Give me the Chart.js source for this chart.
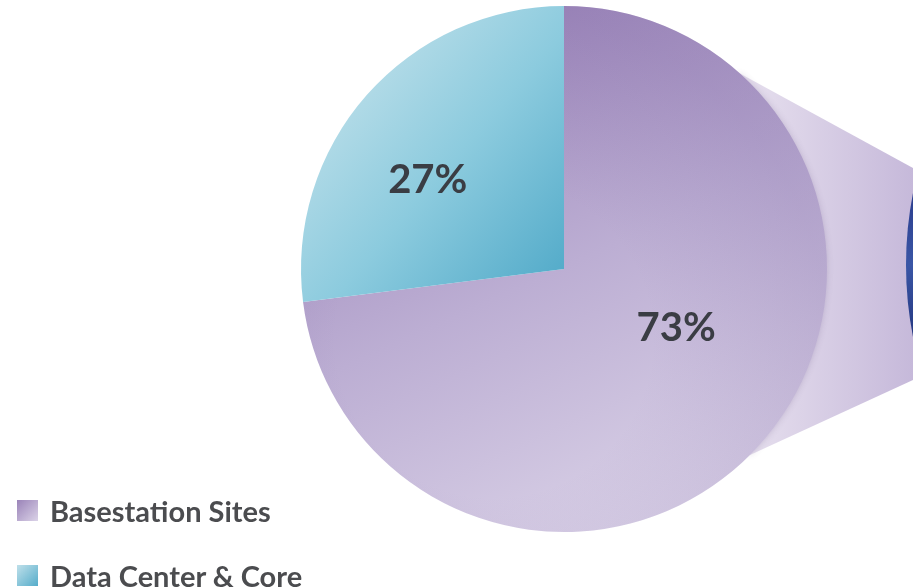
<!DOCTYPE html>
<html lang="en">
<head>
  <meta charset="UTF-8">
  <title>Energy Share</title>
  <script src="https://cdn.jsdelivr.net/npm/chart.js@4.4.1/dist/chart.umd.min.js"></script>
  <style>
    html, body { margin: 0; padding: 0; background: #fff; }
    #wrap { position: relative; width: 913px; height: 588px; }
    #legend { position: absolute; left: 17px; top: 478px; font-family: Lato, sans-serif; font-weight: 700; color: #4b4c4f; }
    .item { display: flex; align-items: center; height: 65px; font-size: 29px; }
    .box { width: 21px; height: 21px; margin-right: 12px; }
  </style>
</head>
<body>
<div id="wrap">
  <canvas id="chart" width="913" height="588"></canvas>
  <div id="legend"></div>
</div>
<script>
var labels = ['Basestation Sites', 'Data Center & Core'];
var shares = [73, 27];
// gradient stops for each slice
var sliceColors = [['#9a83b8', '#bcaed3', '#dbd3e8'], ['#bfe0ea', '#8ccbde', '#55acca']];

function sliceFill(context) {
  var chart = context.chart;
  var area = chart.chartArea;
  var c = sliceColors[context.dataIndex];
  if (!area) return c[0];
  var g;
  if (context.dataIndex === 0) {
    g = chart.ctx.createLinearGradient(area.left + 140, area.top, area.left + 380, area.bottom);
  } else {
    var cx = (area.left + area.right) / 2, cy = (area.top + area.bottom) / 2;
    g = chart.ctx.createLinearGradient(area.left + 30, area.top + 60, cx, cy);
  }
  g.addColorStop(0, c[0]);
  g.addColorStop(0.5, c[1]);
  g.addColorStop(1, c[2]);
  return g;
}

// funnel leading off to the right and the second (clipped) circle
var funnel = {
  id: 'funnel',
  beforeDatasetsDraw: function(chart) {
    var meta = chart.getDatasetMeta(0).data[0];
    if (!meta) return;
    var ctx = chart.ctx, cx = meta.x, cy = meta.y, r = meta.outerRadius;
    var w = chart.width;
    var a1 = -48 * Math.PI / 180, a2 = 45 * Math.PI / 180;
    ctx.save();
    var g = ctx.createLinearGradient(cx + r * 0.7, 0, w, 0);
    g.addColorStop(0, '#e6dfee');
    g.addColorStop(1, '#c6b9da');
    ctx.fillStyle = g;
    ctx.beginPath();
    ctx.moveTo(cx, cy);
    ctx.lineTo(cx + r * Math.cos(a1), cy + r * Math.sin(a1));
    ctx.lineTo(w, 168);
    ctx.lineTo(w, 380);
    ctx.lineTo(cx + r * Math.cos(a2), cy + r * Math.sin(a2));
    ctx.closePath();
    ctx.fill();
    var bg = ctx.createLinearGradient(w - 10, 190, w, 340);
    bg.addColorStop(0, '#2a3c8c');
    bg.addColorStop(0.5, '#3a56a6');
    bg.addColorStop(1, '#24367f');
    ctx.fillStyle = bg;
    ctx.beginPath();
    ctx.arc(w + 367, 265, 374, 0, Math.PI * 2);
    ctx.fill();
    ctx.restore();
    // soft shade along the pie rim
    ctx.save();
    ctx.shadowColor = 'rgba(90,70,120,0.3)';
    ctx.shadowBlur = 7;
    ctx.fillStyle = '#b9a8d0';
    ctx.beginPath();
    ctx.arc(cx, cy, r - 1, a1, a2);
    ctx.lineTo(cx, cy);
    ctx.closePath();
    ctx.fill();
    ctx.restore();
  }
};

// darker rim on the large slice, then percentage text inside each slice
var sliceText = {
  id: 'sliceText',
  afterDatasetsDraw: function(chart) {
    var ctx = chart.ctx;
    var arcs = chart.getDatasetMeta(0).data;
    var big = arcs[0];
    ctx.save();
    ctx.beginPath();
    ctx.moveTo(big.x, big.y);
    ctx.arc(big.x, big.y, big.outerRadius, big.startAngle, big.endAngle);
    ctx.closePath();
    ctx.clip();
    var ox = big.x - 70, oy = big.y + 70;
    var rg = ctx.createRadialGradient(ox, oy, big.outerRadius * 0.6, ox, oy, big.outerRadius + 70);
    rg.addColorStop(0, 'rgba(120,95,160,0)');
    rg.addColorStop(1, 'rgba(120,95,160,0.2)');
    ctx.fillStyle = rg;
    ctx.fillRect(big.x - big.outerRadius, big.y - big.outerRadius, big.outerRadius * 2, big.outerRadius * 2);
    ctx.restore();

    var data = chart.data.datasets[0].data;
    var total = data.reduce(function(a, b) { return a + b; }, 0);
    ctx.save();
    ctx.font = 'bold 40px Lato, sans-serif';
    ctx.fillStyle = '#3a3d44';
    ctx.textAlign = 'center';
    ctx.textBaseline = 'middle';
    arcs.forEach(function(arc, i) {
      var frac = data[i] / total;
      var mid = (arc.startAngle + arc.endAngle) / 2 - (5 + 12 * frac) * Math.PI / 180;
      var d = arc.outerRadius * (0.7 - 0.3 * frac);
      ctx.fillText(Math.round(frac * 100) + '%', arc.x + d * Math.cos(mid), arc.y + d * Math.sin(mid));
    });
    ctx.restore();
  }
};

new Chart(document.getElementById('chart'), {
  type: 'pie',
  data: {
    labels: labels,
    datasets: [{
      data: shares,
      backgroundColor: sliceFill,
      borderWidth: 0
    }]
  },
  options: {
    responsive: false,
    animation: false,
    layout: { padding: { left: 300, right: 85, top: 6, bottom: 56 } },
    plugins: {
      legend: { display: false },
      tooltip: { enabled: false }
    }
  },
  plugins: [funnel, sliceText]
});

// legend as html text
var legend = document.getElementById('legend');
labels.forEach(function(name, i) {
  var row = document.createElement('div');
  row.className = 'item';
  var box = document.createElement('span');
  box.className = 'box';
  box.style.background = 'linear-gradient(135deg, ' + sliceColors[i][0] + ', ' + sliceColors[i][2] + ')';
  var txt = document.createElement('span');
  txt.textContent = name;
  row.appendChild(box);
  row.appendChild(txt);
  legend.appendChild(row);
});
</script>
</body>
</html>
